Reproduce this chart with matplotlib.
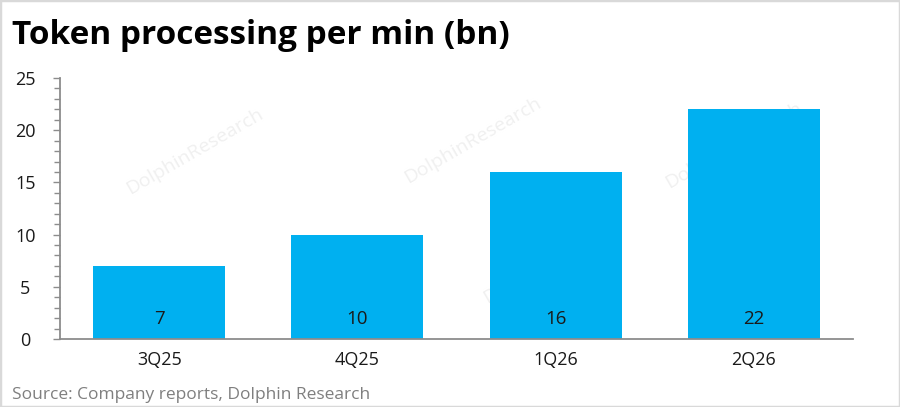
import matplotlib.pyplot as plt
from matplotlib.ticker import MultipleLocator
from matplotlib.patches import Rectangle

quarters = ['3Q25', '4Q25', '1Q26', '2Q26']
tokens_bn = [7, 10, 16, 22]

plt.rcParams['font.family'] = ['Open Sans', 'DejaVu Sans']

fig = plt.figure(figsize=(9, 4.07), dpi=100)
ax = fig.add_axes([60 / 900, 1 - 339 / 407, 793 / 900, 261 / 407])

bars = ax.bar(range(len(quarters)), tokens_bn, width=0.667, color='#00B0F0', zorder=2)
for b, v in zip(bars, tokens_bn):
    ax.text(b.get_x() + b.get_width() / 2, 1.9, str(v), ha='center', va='center',
            fontsize=13.5, color='#1a1a1a', zorder=3)

ax.set_xlim(-0.5, len(quarters) - 0.5)
ax.set_ylim(0, 25)
ax.set_xticks(range(len(quarters)))
ax.set_xticklabels(quarters)
ax.yaxis.set_major_locator(MultipleLocator(5))
ax.yaxis.set_minor_locator(MultipleLocator(1))
ax.tick_params(axis='x', length=0, pad=9, labelsize=13, labelcolor='#1a1a1a')
ax.tick_params(axis='y', which='major', length=5, width=1, color='#8c8c8c',
               pad=20, labelsize=13, labelcolor='#1a1a1a')
ax.tick_params(axis='y', which='minor', length=4, width=1, color='#8c8c8c')
for s in ['top', 'right']:
    ax.spines[s].set_visible(False)
for s in ['left', 'bottom']:
    ax.spines[s].set_color('#8c8c8c')
    ax.spines[s].set_linewidth(1.3)
for lab in ax.get_yticklabels():
    lab.set_horizontalalignment('center')

# faint watermarks behind the bars
for (x, y) in [(0.17, 0.72), (0.52, 0.76), (0.85, 0.74), (0.62, 0.30)]:
    ax.text(x, y, 'DolphinResearch', transform=ax.transAxes, fontsize=14,
            color='#f0f0f0', rotation=30, ha='center', va='center', zorder=1)

fig.text(12 / 900, 1 - 36 / 407, 'Token processing per min (bn)', fontsize=24,
         fontweight='bold', color='black', va='center', ha='left')
fig.text(12 / 900, 1 - 395 / 407, 'Source: Company reports, Dolphin Research',
         fontsize=12.5, color='#7f7f7f', va='center', ha='left')

fig.patches.append(Rectangle((0, 0), 1, 1, transform=fig.transFigure, fill=False,
                             edgecolor='#d9d9d9', linewidth=2.5))

fig.savefig('out.png', dpi=100)
